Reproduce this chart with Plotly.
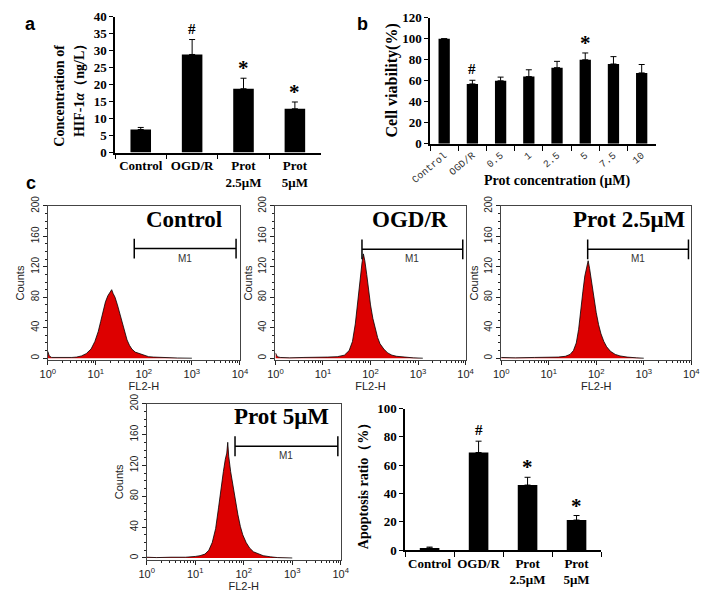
import numpy as np
import plotly.graph_objects as go

# ---------------- data ----------------
# panel a : HIF-1a concentration
a_groups = ["Control", "OGD/R", "Prot<br>2.5μM", "Prot<br>5μM"]
a_means = [6.8, 28.9, 18.8, 12.9]
a_err = [0.6, 4.4, 3.1, 2.0]
a_marks = ["", "#", "*", "*"]

# panel b : cell viability
b_groups = ["Control", "OGD/R", "0.5", "1", "2.5", "5", "7.5", "10"]
b_means = [100, 57, 60, 64, 72.5, 80, 76, 67.5]
b_err = [0, 3.5, 3.5, 6.5, 6, 6.5, 7, 8]
b_marks = ["", "#", "", "", "", "*", "", ""]

# panel c : apoptosis ratio
c_groups = ["Control", "OGD/R", "Prot<br>2.5μM", "Prot<br>5μM"]
c_means = [1.6, 69, 46, 21.3]
c_err = [0.6, 8, 5.5, 3.2]
c_marks = ["", "#", "*", "*"]

# flow cytometry histograms (x in decades of FL2-H, y = counts)
ctrl_dec = [0.0, 0.03, 0.08, 0.2, 0.35, 0.5, 0.6, 0.7, 0.8, 0.9, 0.98, 1.05, 1.1, 1.15, 1.2, 1.25,
            1.3, 1.33, 1.36, 1.4, 1.45, 1.5, 1.55, 1.6, 1.65, 1.7, 1.75, 1.82, 1.9, 2.0, 2.1, 2.2,
            2.35, 2.5, 2.7, 3.0]
ctrl_cnt = [9, 3, 1, 1, 0.5, 1, 1.5, 3, 6, 12, 22, 35, 48, 62, 74, 82,
            86, 90, 85, 80, 70, 58, 45, 33, 24, 17, 12, 8, 6, 4, 2, 1.5,
            1, 0.5, 0.3, 0]

ogd_dec = [0.0, 0.04, 0.1, 0.3, 0.6, 0.9, 1.1, 1.3, 1.45, 1.55, 1.62, 1.68, 1.73, 1.78, 1.82,
           1.85, 1.88, 1.92, 1.96, 2.0, 2.05, 2.1, 2.15, 2.2, 2.28, 2.36, 2.45, 2.55, 2.7, 2.9, 3.1]
ogd_cnt = [7, 2, 1, 0.5, 1, 1, 1.5, 2, 4, 10, 22, 45, 75, 105, 125,
           137, 128, 110, 88, 70, 52, 38, 27, 19, 12, 7, 4, 2.5, 1.5, 0.5, 0]

p25_dec = [0.0, 0.3, 0.7, 1.0, 1.2, 1.35, 1.45, 1.52, 1.58, 1.63, 1.68, 1.72, 1.76, 1.8, 1.83,
           1.86, 1.9, 1.95, 2.0, 2.05, 2.1, 2.16, 2.22, 2.3, 2.4, 2.5, 2.65, 2.85, 3.0]
p25_cnt = [1, 0.5, 1, 1, 1.5, 2.5, 5, 10, 20, 38, 62, 88, 108, 122, 128,
           118, 100, 80, 60, 44, 32, 22, 15, 9, 5, 3, 1.5, 0.5, 0]

p5_dec = [0.0, 0.2, 0.5, 0.8, 1.0, 1.1, 1.2, 1.28, 1.35, 1.42, 1.48, 1.53, 1.58, 1.62, 1.65,
          1.67, 1.69, 1.73, 1.78, 1.83, 1.88, 1.93, 1.98, 2.05, 2.12, 2.2, 2.3, 2.4, 2.55, 2.7, 3.0]
p5_cnt = [1, 0.5, 1, 1, 2, 3, 5, 10, 20, 38, 65, 92, 112, 128, 136,
          150, 132, 112, 92, 73, 56, 41, 30, 20, 13, 8, 5, 3, 1.5, 0.5, 0]

# M1 gate (decades) and its height (counts)
m1_start = [1.8, 1.82, 1.82, 1.82]
m1_end = [3.92, 3.94, 3.94, 3.94]
m1_level = [144, 143, 143, 145]

hist_titles = ["Control", "OGD/R", "Prot 2.5μM", "Prot 5μM"]

# ---------------- layout helpers ----------------
W, H = 708, 597
SERIF = "Liberation Serif"
SANS = "Liberation Sans"


def xd(a, b):
    return [a / W, b / W]


def yd(top, bot):
    return [1 - bot / H, 1 - top / H]


fig = go.Figure()


def bar_panel(n, groups, means, errs, marks, xdom, ydom, yrange, dtick, xtickfont, tickangle=0):
    xa, ya = f"x{n}" if n > 1 else "x", f"y{n}" if n > 1 else "y"
    fig.add_trace(go.Bar(
        x=groups, y=means, xaxis=xa, yaxis=ya, width=0.4,
        marker=dict(color="black", line=dict(width=0)),
        error_y=dict(type="data", symmetric=False, array=errs, arrayminus=[0] * len(errs),
                     color="black", thickness=1, width=3),
        showlegend=False))
    key = "" if n == 1 else str(n)
    fig.update_layout(**{
        f"xaxis{key}": dict(domain=xdom, anchor=ya, type="category", showline=True, linecolor="black",
                            linewidth=1.5, ticks="outside", ticklen=5, tickson="boundaries",
                            tickcolor="black", tickfont=xtickfont, tickangle=tickangle,
                            showgrid=False, zeroline=False, ticklabeloverflow="allow"),
        f"yaxis{key}": dict(domain=ydom, anchor=xa, range=yrange, dtick=dtick, showline=True,
                            linecolor="black", linewidth=1.5, ticks="outside", ticklen=4,
                            tickcolor="black", showgrid=False, zeroline=False, ticklabeloverflow="allow",
                            tickfont=dict(family=SERIF, size=13, color="black", weight="bold")),
    })
    for g, m, e, s in zip(groups, means, errs, marks):
        if s:
            big = s == "*"
            fig.add_annotation(x=g, y=m + e, xref=xa, yref=ya, text=f"<b>{s}</b>", showarrow=False,
                               yanchor="bottom", yshift=-4 if big else 1,
                               font=dict(family=SERIF, size=21 if big else 15, color="black"))


bold_x = dict(family=SERIF, size=13, color="black", weight="bold")
bar_panel(1, a_groups, a_means, a_err, a_marks, xd(100, 314), yd(7, 147), [0, 40], 5, bold_x)
bar_panel(2, b_groups, b_means, b_err, b_marks, xd(428, 663), yd(8, 138), [0, 120], 20,
          dict(family="Liberation Mono", size=10, color="#333"), tickangle=-40)
bar_panel(7, c_groups, c_means, c_err, c_marks, xd(402, 606), yd(411, 557), [0, 100], 20, bold_x)

# histograms
hist_data = [(ctrl_dec, ctrl_cnt), (ogd_dec, ogd_cnt), (p25_dec, p25_cnt), (p5_dec, p5_cnt)]
hist_x = [xd(30, 230), xd(267, 465), xd(502, 700), xd(133, 335)]
hist_y = [yd(202, 361), yd(202, 361), yd(202, 361), yd(406, 567)]
minor_vals = [d + np.log10(k) for d in range(4) for k in range(2, 10)]

for i, (dec, cnt) in enumerate(hist_data):
    n = i + 3
    xa, ya = f"x{n}", f"y{n}"
    fig.add_trace(go.Scatter(x=dec, y=cnt, xaxis=xa, yaxis=ya, mode="lines", fill="tozeroy",
                             fillcolor="#dd0000", line=dict(color="black", width=0.8),
                             showlegend=False))
    lvl = m1_level[i]
    fig.add_trace(go.Scatter(x=[m1_start[i], m1_end[i]], y=[lvl, lvl], xaxis=xa, yaxis=ya,
                             mode="lines", line=dict(color="black", width=1.5), showlegend=False))
    for xe in (m1_start[i], m1_end[i]):
        fig.add_trace(go.Scatter(x=[xe, xe], y=[lvl - 13, lvl + 13], xaxis=xa, yaxis=ya,
                                 mode="lines", line=dict(color="black", width=1.5), showlegend=False))
    fig.add_annotation(x=(m1_start[i] + m1_end[i]) / 2, y=lvl, xref=xa, yref=ya, text="M1",
                       showarrow=False, yanchor="top", yshift=-2,
                       font=dict(family=SANS, size=10, color="#333"))
    fig.update_layout(**{
        f"xaxis{n}": dict(domain=hist_x[i], anchor=ya, range=[0, 4], tickvals=[0, 1, 2, 3, 4],
                          ticktext=[f"10<sup>{k}</sup>" for k in range(5)], showline=True,
                          linecolor="#444", linewidth=1, mirror=True, ticks="outside", ticklen=4,
                          tickcolor="#222", showgrid=False, zeroline=False, ticklabeloverflow="allow",
                          minor=dict(tickvals=minor_vals, ticks="outside", ticklen=2, tickcolor="#222"),
                          tickfont=dict(family=SANS, size=11, color="#222"),
                          title=dict(text="FL2-H", font=dict(family=SANS, size=11, color="#222"), standoff=0)),
        f"yaxis{n}": dict(domain=hist_y[i], anchor=xa, range=[-2.5, 200], tickvals=[0, 40, 80, 120, 160, 200],
                          showline=True, linecolor="#444", linewidth=1, mirror=True, ticks="outside",
                          ticklen=4, tickcolor="#222", tickangle=-90, showgrid=False, zeroline=False,
                          ticklabeloverflow="allow",
                          minor=dict(dtick=10, ticks="outside", ticklen=2, tickcolor="#222"),
                          tickfont=dict(family=SANS, size=10, color="#222"),
                          title=dict(text="Counts", font=dict(family=SANS, size=11, color="#222"), standoff=2)),
    })

# in-panel titles
title_pos = [(172, 216, "center"), (407, 216, "center"), (697, 216, "right"), (325, 419, "right")]
for t, (px, py, anc) in zip(hist_titles, title_pos):
    fig.add_annotation(x=px / W, y=1 - py / H, xref="paper", yref="paper", text=f"<b>{t}</b>",
                       showarrow=False, xanchor=anc, yanchor="middle",
                       font=dict(family=SERIF, size=23, color="black"))


# axis labels drawn as annotations
def label(px, py, text, size, angle=0, family=SERIF):
    fig.add_annotation(x=px / W, y=1 - py / H, xref="paper", yref="paper", text=text, showarrow=False,
                       textangle=angle, xanchor="center", yanchor="middle",
                       font=dict(family=family, size=size, color="black"))


label(42, 88, "<b>Concentration of</b>", 14, -90)
label(63, 80, "<b>HIF-1<i>α</i>（ng/L）</b>", 14, -90)
label(388, 73, "<b>Cell viability(%)</b>", 16, -90)
label(560, 176, "<b>Prot concentration (μM)</b>", 14)
label(358, 487, "<b>Apoptosis ratio（%）</b>", 14, -90)

# panel letters
label(12, 14, "<b>a</b>", 18, family=SANS)
label(358, 14, "<b>b</b>", 18, family=SANS)
label(12, 178, "<b>c</b>", 18, family=SANS)

fig.update_layout(width=W, height=H, margin=dict(l=0, r=0, t=0, b=0),
                  paper_bgcolor="white", plot_bgcolor="rgba(0,0,0,0)", bargap=0.6)

fig.write_html("out.html", config={"displayModeBar": False},
               post_script="document.body.style.margin='0';")
